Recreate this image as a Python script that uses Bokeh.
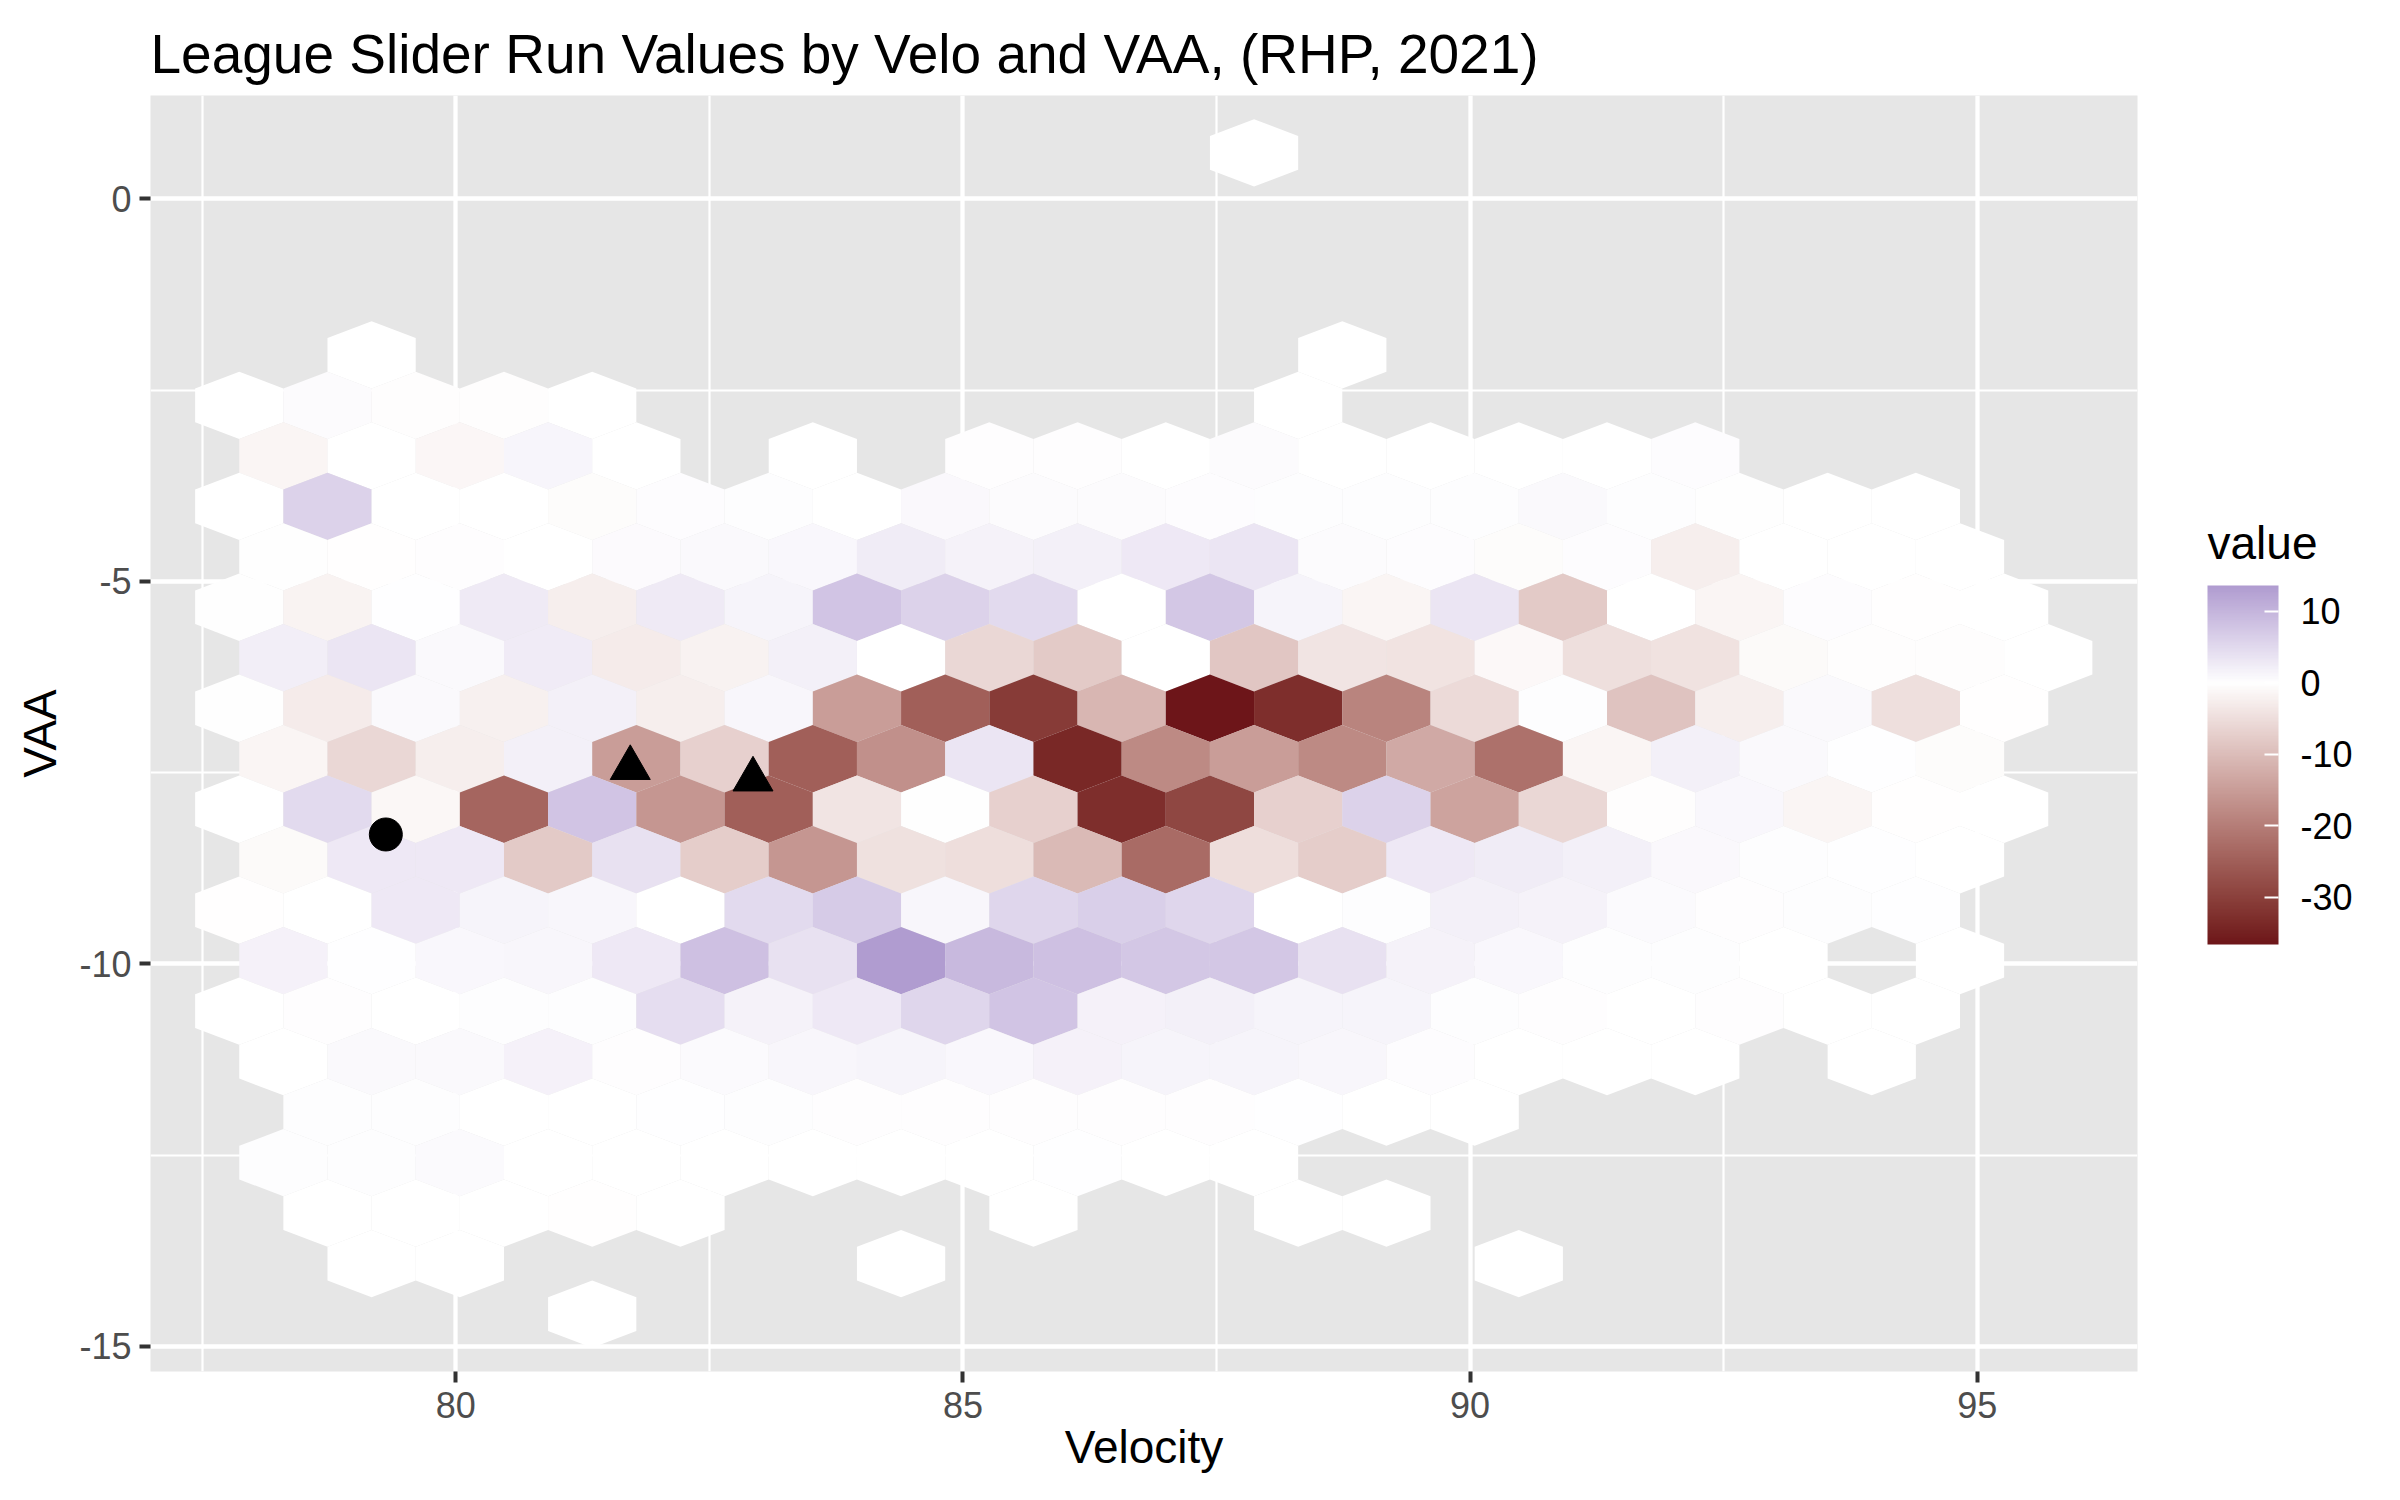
from bokeh.plotting import figure
from bokeh.models import ColorBar, LinearColorMapper, FixedTicker, Range1d
from bokeh.embed import file_html
from bokeh.resources import INLINE

# hexbin lattice
HEX_W = 0.87        # velocity width of one hex
HEX_ROW = 0.66      # VAA step between hex rows
ROW0_VAA = 0.60     # VAA of the top row
COL0_VELO = 77.43   # velocity of column 0 in even rows (odd rows are shifted half a hex)

# mean run value per hex: row -> (first column, values), None = empty bin
hex_rows = {
    0: (12, [0.0]),
    4: (2, [0.0, None, None, None, None, None, None, None, None, None, None, 0.0]),
    5: (0, [0.0, 0.5, -0.3, -0.3, 0.0, None, None, None, None, None, None, None, 0.0]),
    6: (1, [-1.5, 0.0, -1.3, 1.3, 0.0, None, 0.0, None, 0.2, 0.2, 0.0, 0.5, 0.0, 0.0, 0.0, 0.0, 0.4]),
    7: (0, [0.0, 6.0, 0.0, 0.0, -0.5, 0.4, 0.3, 0.0, 0.9, 0.5, 0.5, 0.4, 0.3, 0.3, 0.3, 0.8, 0.3, -0.2, 0.0, 0.0]),
    8: (1, [-0.2, -0.1, 0.2, 0.0, 0.6, 0.8, 1.0, 2.5, 1.7, 2.0, 3.0, 3.5, 0.5, 0.4, -0.5, 0.4, -2.5, 0.0, 0.0, 0.0]),
    9: (0, [-0.2, -1.8, 0.1, 2.8, -2.5, 2.8, 1.5, 8.0, 6.0, 5.0, 0.0, 7.5, 1.5, -1.5, 3.5, -8.0, 0.0, -1.5, 0.4, -0.1, 0.0]),
    10: (1, [2.3, 3.5, 0.8, 2.6, -3.0, -2.0, 2.0, 0.0, -6.0, -8.0, 0.0, -8.5, -4.0, -4.2, -1.0, -4.8, -4.3, -0.8, -0.3, -0.3, 0.0]),
    11: (0, [-0.2, -3.0, 0.8, -2.3, 2.0, -2.5, 1.2, -15.0, -25.0, -31.0, -11.0, -36.6, -33.0, -19.0, -5.5, 0.3, -9.0, -2.5, 0.8, -4.8, -0.1]),
    12: (1, [-1.5, -6.0, -2.5, 2.0, -15.0, -7.0, -25.0, -17.0, 3.5, -34.0, -18.0, -15.0, -18.0, -13.0, -22.0, -1.5, 2.0, 0.8, 0.1, -0.5]),
    13: (0, [0.0, 5.0, -1.2, -24.0, 8.0, -16.0, -25.0, -4.0, -0.2, -7.0, -33.0, -29.0, -7.0, 6.0, -14.0, -6.0, -0.3, 1.0, -1.5, -0.1, 0.0]),
    14: (1, [-0.8, 3.0, 3.0, -8.0, 4.0, -7.5, -16.0, -4.5, -5.0, -10.5, -23.0, -5.0, -7.5, 3.0, 2.5, 2.0, 0.9, 0.3, 0.1, 0.0]),
    15: (0, [-0.1, 0.0, 3.0, 1.5, 1.2, 0.0, 5.0, 7.0, 1.2, 5.5, 6.5, 5.5, 0.0, 0.3, 2.0, 1.7, 0.7, 0.2, 0.3, 0.1]),
    16: (1, [1.8, 0.1, 1.0, 1.2, 3.0, 8.5, 4.0, 13.6, 9.5, 8.5, 7.5, 7.5, 4.0, 1.7, 1.0, 0.3, 0.3, 0.0, None, 0.0]),
    17: (0, [0.0, 0.2, 0.0, 0.3, 0.3, 4.5, 1.7, 3.0, 5.5, 8.0, 1.8, 2.0, 1.5, 1.5, 0.3, 0.2, 0.0, 0.2, 0.0, 0.0]),
    18: (1, [0.0, 0.8, 0.8, 1.8, 0.2, 0.7, 1.2, 1.5, 1.0, 1.8, 1.5, 1.5, 1.2, 0.4, 0.0, 0.0, 0.0, None, 0.0]),
    19: (1, [0.3, 0.3, 0.0, 0.0, 0.1, 0.3, 0.2, 0.2, 0.2, 0.2, 0.2, 0.1, 0.0, 0.0]),
    20: (1, [0.3, 0.3, 0.7, 0.0, 0.0, 0.0, 0.0, 0.0, 0.0, 0.1, 0.0, 0.0]),
    21: (1, [0.0, 0.0, 0.0, -0.1, 0.0, None, None, None, 0.0, None, None, 0.0, 0.0]),
    22: (2, [0.0, 0.0, None, None, None, None, 0.0, None, None, None, None, None, None, 0.0]),
    23: (4, [0.0]),
}

# highlighted pitches
circle_velo = [79.31]
circle_vaa = [-8.31]
triangle_velo = [81.72, 82.93]
triangle_vaa = [-7.44, -7.59]

x_ticks = [80, 85, 90, 95]
y_ticks = [-15, -10, -5, 0]
legend_ticks = [-30, -20, -10, 0, 10]

LOW = "#6d1519"
MID = "#ffffff"
HIGH = "#000080"


def hex_to_lab(h):
    rgb = [int(h[i:i + 2], 16) / 255 for i in (1, 3, 5)]
    lin = [c / 12.92 if c <= 0.04045 else ((c + 0.055) / 1.055) ** 2.4 for c in rgb]
    x = (0.4124 * lin[0] + 0.3576 * lin[1] + 0.1805 * lin[2]) / 0.95047
    y = 0.2126 * lin[0] + 0.7152 * lin[1] + 0.0722 * lin[2]
    z = (0.0193 * lin[0] + 0.1192 * lin[1] + 0.9505 * lin[2]) / 1.08883
    f = lambda t: t ** (1 / 3) if t > 0.008856 else 7.787 * t + 16 / 116
    fx, fy, fz = f(x), f(y), f(z)
    return 116 * fy - 16, 500 * (fx - fy), 200 * (fy - fz)


def lab_to_hex(L, a, b):
    fy = (L + 16) / 116
    fx = fy + a / 500
    fz = fy - b / 200
    finv = lambda t: t ** 3 if t ** 3 > 0.008856 else (t - 16 / 116) / 7.787
    x, y, z = 0.95047 * finv(fx), finv(fy), 1.08883 * finv(fz)
    r = 3.2406 * x - 1.5372 * y - 0.4986 * z
    g = -0.9689 * x + 1.8758 * y + 0.0415 * z
    bl = 0.0557 * x - 0.2040 * y + 1.0570 * z

    def enc(c):
        c = min(max(c, 0.0), 1.0)
        return 12.92 * c if c <= 0.0031308 else 1.055 * c ** (1 / 2.4) - 0.055

    return "#%02x%02x%02x" % tuple(round(enc(c) * 255) for c in (r, g, bl))


LAB_LOW, LAB_MID, LAB_HIGH = hex_to_lab(LOW), hex_to_lab(MID), hex_to_lab(HIGH)


def fill_for(v, span):
    # gradient2: white at 0, both ends scaled by the largest distance
    t = min(abs(v) / span, 1.0)
    end = LAB_HIGH if v > 0 else LAB_LOW
    return lab_to_hex(*[m + (e - m) * t for m, e in zip(LAB_MID, end)])


def plain_minus(ticks):
    return {t: str(t) for t in ticks}


# build hex polygons
xs, ys, vals = [], [], []
half_h = HEX_ROW / 1.5
for row, (start, values) in hex_rows.items():
    cy = ROW0_VAA - HEX_ROW * row
    shift = HEX_W / 2 if row % 2 else 0.0
    for i, v in enumerate(values):
        if v is None:
            continue
        cx = COL0_VELO + shift + HEX_W * (start + i)
        xs.append([cx, cx + HEX_W / 2, cx + HEX_W / 2, cx, cx - HEX_W / 2, cx - HEX_W / 2])
        ys.append([cy + half_h, cy + half_h / 2, cy - half_h / 2, cy - half_h, cy - half_h / 2, cy + half_h / 2])
        vals.append(v)

v_min, v_max = min(vals), max(vals)
span = max(abs(v_min), abs(v_max))
colors = [fill_for(v, span) for v in vals]

FONT = "Liberation Sans"

p = figure(width=2384, height=1484, output_backend="svg", toolbar_location=None,
           x_range=Range1d(76.99, 96.58), y_range=Range1d(-15.33, 1.35),
           min_border_left=150, min_border_right=247, min_border_top=95, min_border_bottom=113,
           title="League Slider Run Values by Velo and VAA, (RHP, 2021)")

p.background_fill_color = "#e6e6e6"
p.border_fill_color = "white"
p.outline_line_color = None

p.title.text_font = FONT
p.title.text_font_size = "55px"
p.title.text_font_style = "normal"
p.title.text_color = "black"
p.title.align = "left"
p.title.standoff = 22

p.xaxis.ticker = FixedTicker(ticks=x_ticks, minor_ticks=[77.5, 82.5, 87.5, 92.5])
p.yaxis.ticker = FixedTicker(ticks=y_ticks, minor_ticks=[-12.5, -7.5, -2.5])
p.yaxis.major_label_overrides = plain_minus(y_ticks)
p.xaxis.axis_label = "Velocity"
p.yaxis.axis_label = "VAA"
for ax in (p.xaxis, p.yaxis):
    ax.axis_line_color = None
    ax.major_tick_line_color = "#333333"
    ax.major_tick_line_width = 4
    ax.major_tick_out = 11
    ax.major_tick_in = 0
    ax.minor_tick_line_color = None
    ax.major_label_text_font = FONT
    ax.major_label_text_font_size = "36px"
    ax.major_label_text_color = "#4d4d4d"
    ax.axis_label_text_font = FONT
    ax.axis_label_text_font_size = "46px"
    ax.axis_label_text_font_style = "normal"
    ax.axis_label_text_color = "black"
p.xaxis.major_label_standoff = 9
p.xaxis.axis_label_standoff = 0
p.yaxis.major_label_standoff = 8
p.yaxis.axis_label_standoff = 10

for g in (p.xgrid, p.ygrid):
    g.grid_line_color = "white"
    g.grid_line_width = 4.3
    g.minor_grid_line_color = "white"
    g.minor_grid_line_width = 2.2

p.patches(xs, ys, fill_color=colors, line_color=None)

p.scatter(circle_velo, circle_vaa, marker="circle", size=33, color="black")
p.scatter(triangle_velo, triangle_vaa, marker="triangle", size=40, color="black")

palette = [fill_for(v_min + (v_max - v_min) * k / 255, span) for k in range(256)]
mapper = LinearColorMapper(palette=palette, low=v_min, high=v_max)
cb = ColorBar(color_mapper=mapper, ticker=FixedTicker(ticks=legend_ticks),
              major_label_overrides=plain_minus(legend_ticks),
              width=71, height=359, padding=0, location=(2057, 427),
              major_label_text_font=FONT, major_label_text_font_size="36px",
              major_label_text_color="black", label_standoff=22,
              major_tick_line_color="white", major_tick_line_width=2,
              major_tick_in=14, major_tick_out=0, minor_tick_line_color=None,
              bar_line_color=None, border_line_color=None, background_fill_color=None)
p.add_layout(cb, "center")

# legend title: a flat, invisible colour bar whose title sits horizontally above it
cb_title = ColorBar(color_mapper=mapper, orientation="horizontal", ticker=FixedTicker(ticks=[]),
                    width=71, height=1, padding=0, location=(2057, 802), scale_alpha=0,
                    title="value", title_text_font=FONT, title_text_font_size="46px",
                    title_text_font_style="normal", title_text_color="black", title_standoff=0,
                    major_tick_line_color=None, minor_tick_line_color=None,
                    bar_line_color=None, border_line_color=None, background_fill_color=None)
p.add_layout(cb_title, "center")

open("out.html", "w").write(file_html(p, INLINE))
